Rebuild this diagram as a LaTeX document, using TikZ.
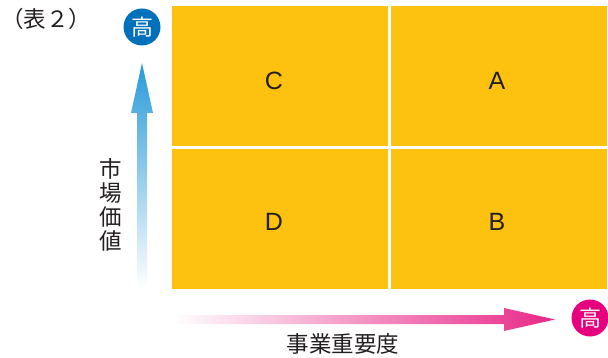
\documentclass[tikz,border=0pt]{standalone}
\usepackage{fontspec}
\setmainfont{Noto Sans CJK JP}
\newfontfamily\latinfont{Liberation Sans}
\definecolor{cellyellow}{RGB}{253,193,16}
\definecolor{hiblue}{RGB}{0,112,186}
\definecolor{hipink}{RGB}{230,0,126}
\definecolor{arrowblue}{RGB}{40,154,216}
\definecolor{arrowpink}{RGB}{232,40,136}
\definecolor{txt}{RGB}{35,31,32}
\tikzset{
  cell/.style={fill=cellyellow, draw=none, anchor=north west, inner sep=0pt,
    minimum width=216pt, minimum height=140pt},
  letter/.style={text=txt, inner sep=0pt, font=\latinfont\fontsize{25}{25}\selectfont},
  hicircle/.style={circle, inner sep=0pt, minimum size=37pt, text=white,
    font=\fontsize{22}{22}\selectfont},
  axislabel/.style={text=txt, font=\fontsize{22.5}{24}\selectfont, inner sep=0pt}
}
\begin{document}
\begin{tikzpicture}[x=1pt,y=-1pt]
\useasboundingbox (0,0) rectangle (608,358);
% cells
\node[cell] (cC) at (172,6) {};
\node[cell] (cA) at (391,6) {};
\node[cell] (cD) at (172,149) {};
\node[cell] (cB) at (391,149) {};
\node[letter] (C) at (274,81) {C};
\node[letter] (A) at (497,81) {A};
\node[letter] (D) at (274,222) {D};
\node[letter] (B) at (497,222) {B};
% title
\node[text=txt, font=\fontsize{22.5}{22.5}\selectfont, anchor=west, inner sep=0pt] (title) at (1,19) {（表２）};
% vertical arrow
\shade[top color=arrowblue, bottom color=white]
  (137,288) -- (137,113) -- (131,113) -- (142,63) -- (153,113) -- (147,113) -- (147,288) -- cycle;
\node[hicircle, fill=hiblue] (hiy) at (142,27) {高};
% horizontal arrow
\shade[left color=white, right color=arrowpink]
  (172,315) -- (504,315) -- (504,308) -- (555,319.5) -- (504,331) -- (504,324) -- (172,324) -- cycle;
\node[hicircle, fill=hipink] (hix) at (590,318) {高};
% axis labels
\node[axislabel, align=center] (ylab) at (111,205) {市\\場\\価\\値};
\node[axislabel] (xlab) at (343,344) {事業重要度};
\end{tikzpicture}
\end{document}
